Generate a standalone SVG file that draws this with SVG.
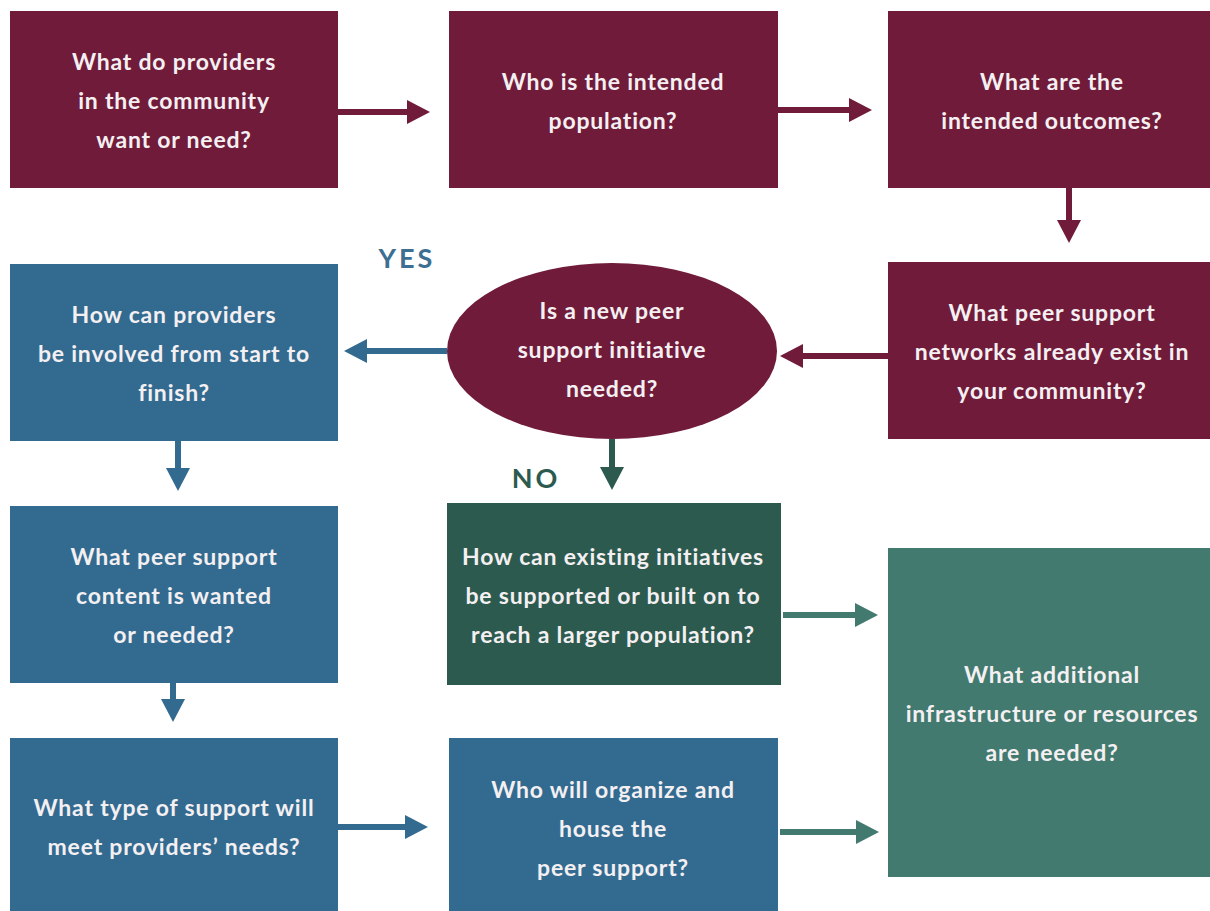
<svg xmlns="http://www.w3.org/2000/svg" width="1210" height="911" viewBox="0 0 1210 911">
  <style>
    .maroon { fill: #701b3a; }
    .blue { fill: #336a90; }
    .dgreen { fill: #2c5a4f; }
    .teal { fill: #427a6f; }
    .lbl { font-family: Lato, "Open Sans", "Liberation Sans", sans-serif; font-weight: bold; font-size: 23px; letter-spacing: 0.8px; fill: #f4f0f2; text-anchor: middle; }
    .tag { font-family: Lato, "Open Sans", "Liberation Sans", sans-serif; font-weight: bold; font-size: 27px; letter-spacing: 3px; text-anchor: middle; }
    .c-maroon { stroke: #701b3a; }
    .c-blue { stroke: #336a90; }
    .c-dgreen { stroke: #2c5a4f; }
    .c-teal { stroke: #427a6f; }
    #connectors line { stroke-width: 6; fill: none; }
  </style>
  <defs>
    <marker id="ah-maroon" markerUnits="userSpaceOnUse" markerWidth="24" markerHeight="26" refX="0" refY="13" orient="auto">
      <path d="M0,1 L23,13 L0,25 z" fill="#701b3a"/>
    </marker>
    <marker id="ah-blue" markerUnits="userSpaceOnUse" markerWidth="24" markerHeight="26" refX="0" refY="13" orient="auto">
      <path d="M0,1 L23,13 L0,25 z" fill="#336a90"/>
    </marker>
    <marker id="ah-dgreen" markerUnits="userSpaceOnUse" markerWidth="24" markerHeight="26" refX="0" refY="13" orient="auto">
      <path d="M0,1 L23,13 L0,25 z" fill="#2c5a4f"/>
    </marker>
    <marker id="ah-teal" markerUnits="userSpaceOnUse" markerWidth="24" markerHeight="26" refX="0" refY="13" orient="auto">
      <path d="M0,1 L23,13 L0,25 z" fill="#427a6f"/>
    </marker>
  </defs>

  <rect width="1210" height="911" fill="#ffffff"/>

  <!-- top row -->
  <g id="n-providers-want">
    <rect class="maroon" x="10" y="11" width="328" height="177"/>
    <text class="lbl" x="174" y="70">What do providers</text>
    <text class="lbl" x="174" y="109">in the community</text>
    <text class="lbl" x="174" y="148">want or need?</text>
  </g>
  <g id="n-population">
    <rect class="maroon" x="449" y="11" width="329" height="177"/>
    <text class="lbl" x="613" y="90">Who is the intended</text>
    <text class="lbl" x="613" y="129">population?</text>
  </g>
  <g id="n-outcomes">
    <rect class="maroon" x="888" y="11" width="322" height="177"/>
    <text class="lbl" x="1052" y="90">What are the</text>
    <text class="lbl" x="1052" y="129">intended outcomes?</text>
  </g>

  <!-- second row -->
  <g id="n-involved">
    <rect class="blue" x="10" y="264" width="328" height="177"/>
    <text class="lbl" x="174" y="323">How can providers</text>
    <text class="lbl" x="174" y="362">be involved from start to</text>
    <text class="lbl" x="174" y="401">finish?</text>
  </g>
  <g id="n-new-initiative">
    <ellipse class="maroon" cx="612" cy="351" rx="165" ry="88"/>
    <text class="lbl" x="612" y="319">Is a new peer</text>
    <text class="lbl" x="612" y="358">support initiative</text>
    <text class="lbl" x="612" y="397">needed?</text>
  </g>
  <g id="n-existing-networks">
    <rect class="maroon" x="888" y="262" width="322" height="177"/>
    <text class="lbl" x="1052" y="321">What peer support</text>
    <text class="lbl" x="1052" y="360">networks already exist in</text>
    <text class="lbl" x="1052" y="399">your community?</text>
  </g>

  <g id="t-yes">
    <text class="tag" x="407" y="268" fill="#3d6f93">YES</text>
  </g>
  <g id="t-no">
    <text class="tag" x="536" y="488" fill="#2c5a4f">NO</text>
  </g>

  <!-- third row -->
  <g id="n-content">
    <rect class="blue" x="10" y="506" width="328" height="177"/>
    <text class="lbl" x="174" y="565">What peer support</text>
    <text class="lbl" x="174" y="604">content is wanted</text>
    <text class="lbl" x="174" y="643">or needed?</text>
  </g>
  <g id="n-build-on">
    <rect class="dgreen" x="447" y="503" width="334" height="182"/>
    <text class="lbl" x="613" y="565">How can existing initiatives</text>
    <text class="lbl" x="613" y="604">be supported or built on to</text>
    <text class="lbl" x="613" y="643">reach a larger population?</text>
  </g>
  <g id="n-resources">
    <rect class="teal" x="888" y="548" width="322" height="329"/>
    <text class="lbl" x="1052" y="683">What additional</text>
    <text class="lbl" x="1052" y="722">infrastructure or resources</text>
    <text class="lbl" x="1052" y="761">are needed?</text>
  </g>

  <!-- bottom row -->
  <g id="n-support-type">
    <rect class="blue" x="10" y="738" width="328" height="173"/>
    <text class="lbl" x="174" y="816">What type of support will</text>
    <text class="lbl" x="174" y="855">meet providers’ needs?</text>
  </g>
  <g id="n-organize">
    <rect class="blue" x="449" y="738" width="329" height="173"/>
    <text class="lbl" x="613" y="798">Who will organize and</text>
    <text class="lbl" x="613" y="837">house the</text>
    <text class="lbl" x="613" y="876">peer support?</text>
  </g>

  <g id="connectors">
    <line class="c-maroon" x1="338" y1="112" x2="407" y2="112" marker-end="url(#ah-maroon)"/>
    <line class="c-maroon" x1="778" y1="110" x2="849" y2="110" marker-end="url(#ah-maroon)"/>
    <line class="c-maroon" x1="1069" y1="188" x2="1069" y2="220" marker-end="url(#ah-maroon)"/>
    <line class="c-maroon" x1="888" y1="356" x2="803" y2="356" marker-end="url(#ah-maroon)"/>
    <line class="c-blue" x1="447" y1="351" x2="367" y2="351" marker-end="url(#ah-blue)"/>
    <line class="c-dgreen" x1="612" y1="439" x2="612" y2="467" marker-end="url(#ah-dgreen)"/>
    <line class="c-blue" x1="178" y1="441" x2="178" y2="468" marker-end="url(#ah-blue)"/>
    <line class="c-blue" x1="173" y1="683" x2="173" y2="699" marker-end="url(#ah-blue)"/>
    <line class="c-blue" x1="338" y1="827" x2="405" y2="827" marker-end="url(#ah-blue)"/>
    <line class="c-teal" x1="783" y1="615" x2="855" y2="615" marker-end="url(#ah-teal)"/>
    <line class="c-teal" x1="780" y1="832" x2="856" y2="832" marker-end="url(#ah-teal)"/>
  </g>
</svg>
